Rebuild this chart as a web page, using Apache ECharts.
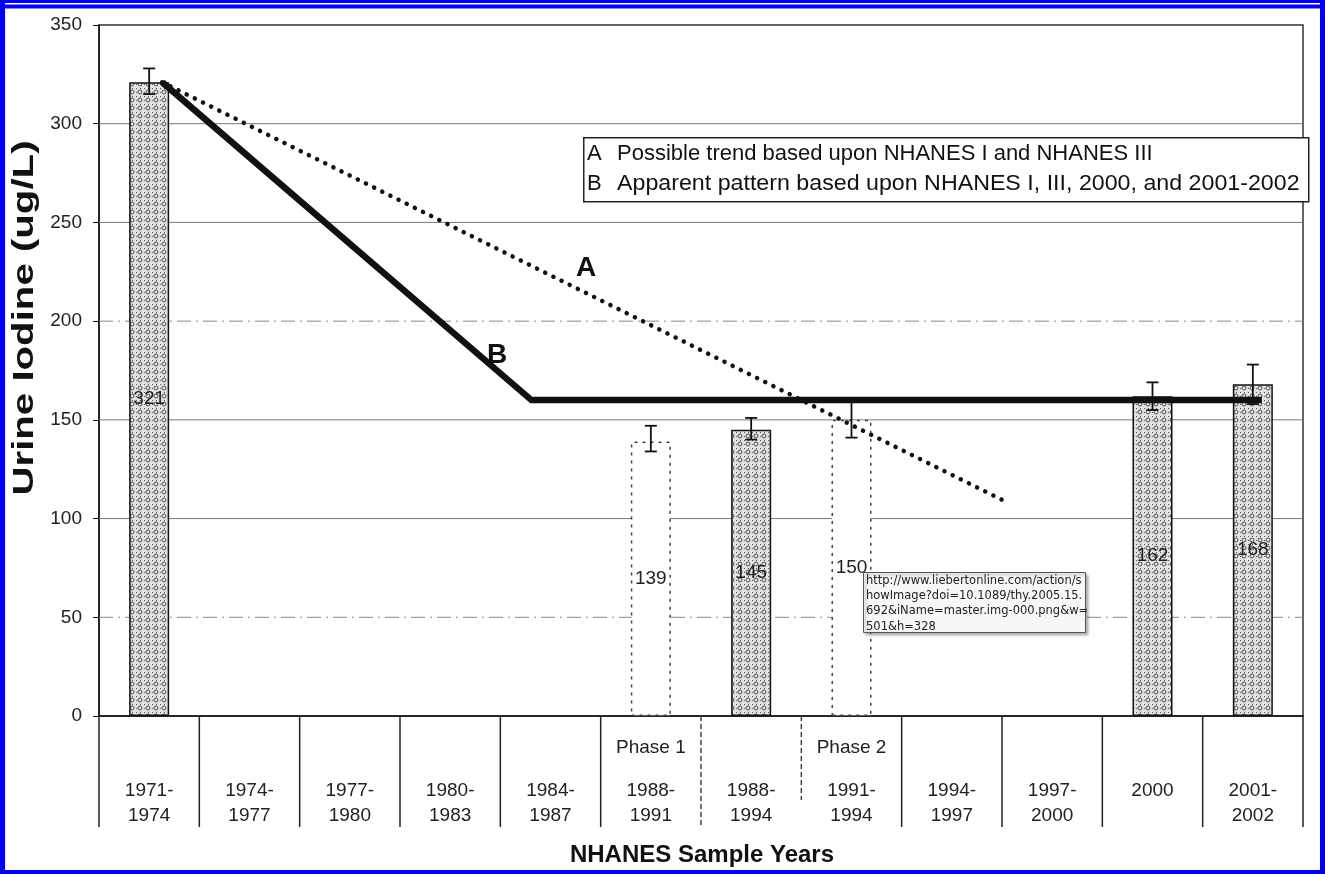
<!DOCTYPE html>
<html><head><meta charset="utf-8">
<script src="https://cdn.jsdelivr.net/npm/echarts@6/dist/echarts.min.js"></script>
<style>html,body{margin:0;padding:0;background:#fff}#c{width:1325px;height:874px}</style>
</head><body><div id="c"></div>
<script>
// ---- data ----
const categories = ['1971-\n1974','1974-\n1977','1977-\n1980','1980-\n1983','1984-\n1987','1988-\n1991','1988-\n1994','1991-\n1994','1994-\n1997','1997-\n2000','2000\n','2001-\n2002'];
const phaseLabels = ['','','','','','Phase 1','','Phase 2','','','',''];
const measuredValues = [321,null,null,null,null,null,145,null,null,null,162,168];
const phaseValues = [null,null,null,null,null,139,null,150,null,null,null,null];
const errCategory = [0,5,6,7,10,11];
const errLow  = [315,134,140,141,155,158];
const errHigh = [328,147,151,161,169,178];
const lineA_x = [0.63, 9.02];
const lineA_y = [321, 109];
const lineB_x = [0.63, 4.31, 11.59];
const lineB_y = [321, 160, 160];
const gridValues = [50,100,150,200,250,300];
const yMin = 0, yMax = 350, yStep = 50;

const FONT = '"Liberation Sans", Arial, sans-serif';

// stipple pattern for measured bars
const pc = document.createElement('canvas'); pc.width = 8; pc.height = 8;
const g = pc.getContext('2d');
g.fillStyle = '#e2e2e2'; g.fillRect(0,0,8,8);
g.strokeStyle = '#505050'; g.lineWidth = 1;
g.beginPath(); g.arc(4,4,2,0,Math.PI*2); g.stroke();
g.fillStyle = '#555'; g.fillRect(0,0,1,1); g.fillRect(0,4,1,1); g.fillRect(4,0,1,1);

const chart = echarts.init(document.getElementById('c'), null, {renderer:'canvas'});
const nCat = categories.length;
const boundaries = categories.map((_, i) => i).concat(nCat);

const option = {
  animation: false,
  backgroundColor: '#fff',
  grid: {left: 99, top: 25, right: 22, bottom: 158, show: true, borderColor: '#333', borderWidth: 1.5},
  xAxis: [{
    type: 'category', data: categories, boundaryGap: true,
    axisLine: {lineStyle: {color: '#111', width: 1.5}},
    axisTick: {show: false},
    axisLabel: {
      interval: 0, margin: 2, fontFamily: FONT, color: '#222',
      formatter: (v, i) => '{p|' + (phaseLabels[i] || ' ') + '}\n' + v.split('\n').map(s => '{y|' + (s || ' ') + '}').join('\n'),
      rich: {
        p: {fontSize: 19, lineHeight: 60, fontFamily: FONT, color: '#222'},
        y: {fontSize: 19, lineHeight: 25, fontFamily: FONT, color: '#222'}
      }
    },
    splitLine: {show: false}
  }, {
    type: 'value', min: 0, max: nCat, show: false
  }],
  yAxis: {
    type: 'value', min: yMin, max: yMax, interval: yStep,
    axisLine: {show: true, lineStyle: {color: '#111', width: 1.5}},
    axisTick: {show: true, length: 6, lineStyle: {color: '#111'}},
    axisLabel: {fontSize: 19, fontFamily: FONT, color: '#222', margin: 17},
    splitLine: {show: false}
  },
  series: [
    { // gridlines
      type: 'custom', xAxisIndex: 1, z: 1, silent: true,
      data: gridValues.map(v => [v]),
      encode: {y: 0},
      renderItem: (params, api) => {
        const v = api.value(0);
        const p1 = api.coord([0, v]), p2 = api.coord([nCat, v]);
        const broken = (v === 50 || v === 200);
        return {type: 'line', shape: {x1: p1[0], y1: p1[1], x2: p2[0], y2: p2[1]},
          style: {stroke: broken ? '#8a8a8a' : '#777', lineWidth: 1, lineDash: broken ? [14,5,2,5] : null}};
      }
    },
    {
      type: 'bar', name: 'measured', xAxisIndex: 0, z: 2, barWidth: 40, barGap: '-100%',
      data: measuredValues,
      itemStyle: {color: {image: pc, repeat: 'repeat'}, borderColor: '#111', borderWidth: 1.5},
      label: {show: true, position: 'inside', fontSize: 19, fontFamily: FONT, color: '#222'}
    },
    {
      type: 'bar', name: 'phase', xAxisIndex: 0, z: 2, barWidth: 40, barGap: '-100%',
      data: phaseValues,
      itemStyle: {color: '#fff', borderColor: '#444', borderWidth: 1.5, borderType: [3,5]},
      label: {show: true, position: 'inside', fontSize: 19, fontFamily: FONT, color: '#222'}
    },
    { // error bars
      type: 'custom', xAxisIndex: 0, z: 3, silent: true,
      data: errCategory.map((c, i) => [c, errLow[i], errHigh[i]]),
      encode: {x: 0, y: [1, 2]},
      renderItem: (params, api) => {
        const c = api.value(0);
        const lo = api.coord([c, api.value(1)]);
        const hi = api.coord([c, api.value(2)]);
        const w = 6, st = {stroke: '#111', lineWidth: 1.8};
        return {type: 'group', children: [
          {type: 'line', shape: {x1: lo[0], y1: lo[1], x2: hi[0], y2: hi[1]}, style: st},
          {type: 'line', shape: {x1: lo[0]-w, y1: lo[1], x2: lo[0]+w, y2: lo[1]}, style: st},
          {type: 'line', shape: {x1: hi[0]-w, y1: hi[1], x2: hi[0]+w, y2: hi[1]}, style: st}
        ]};
      }
    },
    {
      type: 'line', name: 'A', xAxisIndex: 1, z: 4, symbol: 'none',
      data: lineA_x.map((x, i) => [x, lineA_y[i]]),
      lineStyle: {color: '#111', width: 4.5, type: [0.1, 9], cap: 'round'}
    },
    {
      type: 'line', name: 'B', xAxisIndex: 1, z: 5, symbol: 'none',
      data: lineB_x.map((x, i) => [x, lineB_y[i]]),
      lineStyle: {color: '#111', width: 6.5, join: 'miter'}
    },
    { // table lines below the axis
      type: 'custom', xAxisIndex: 1, z: 3, silent: true, clip: false,
      data: boundaries.map(b => [b]),
      encode: {x: 0},
      renderItem: (params, api) => {
        const b = api.value(0);
        const p = api.coord([b, 0]);
        let len = 111, dash = null, color = '#222';
        if (b === 6) { dash = [5, 3]; color = '#444'; }
        if (b === 7) { dash = [5, 3]; color = '#444'; len = 84; }
        return {type: 'line', shape: {x1: p[0], y1: p[1], x2: p[0], y2: p[1] + len},
          style: {stroke: color, lineWidth: 1.5, lineDash: dash}};
      }
    }
  ],
  graphic: [
    // legend box
    {type: 'rect', left: 583, top: 137, z: 50, shape: {width: 725, height: 64},
      style: {fill: '#fff', stroke: '#222', lineWidth: 1.5}},
    {type: 'text', x: 587, y: 154, z: 51, style: {text: 'A', font: '22px ' + FONT, fill: '#111', textVerticalAlign: 'middle'}},
    {type: 'text', x: 617, y: 154, z: 51, style: {text: 'Possible trend based upon NHANES I and NHANES III', font: '22px ' + FONT, fill: '#111', textVerticalAlign: 'middle'}},
    {type: 'text', x: 587, y: 184, z: 51, style: {text: 'B', font: '22px ' + FONT, fill: '#111', textVerticalAlign: 'middle'}},
    {type: 'text', x: 617, y: 184, z: 51, scaleX: 1.055, style: {text: 'Apparent pattern based upon NHANES I, III, 2000, and 2001-2002', font: '22px ' + FONT, fill: '#111', textVerticalAlign: 'middle'}},
    // line labels
    {type: 'text', x: 586, y: 268, z: 51, style: {text: 'A', font: 'bold 28px ' + FONT, fill: '#111', textAlign: 'center', textVerticalAlign: 'middle'}},
    {type: 'text', x: 497, y: 355, z: 51, style: {text: 'B', font: 'bold 28px ' + FONT, fill: '#111', textAlign: 'center', textVerticalAlign: 'middle'}},
    // axis titles
    {type: 'text', x: 25, y: 318, rotation: Math.PI / 2, scaleX: 1.34, z: 51, style: {text: 'Urine Iodine (ug/L)', font: 'bold 30px ' + FONT, fill: '#111', textAlign: 'center', textVerticalAlign: 'middle'}},
    {type: 'text', x: 702, y: 855, z: 51, style: {text: 'NHANES Sample Years', font: 'bold 24px ' + FONT, fill: '#111', textAlign: 'center', textVerticalAlign: 'middle'}},
    // url tooltip box
    {type: 'rect', left: 863, top: 572, z: 60, shape: {width: 222, height: 60},
      style: {fill: '#f7f7f9', stroke: '#555', lineWidth: 1, shadowBlur: 3, shadowColor: 'rgba(0,0,0,0.35)', shadowOffsetX: 2, shadowOffsetY: 2}},
    {type: 'text', x: 866, y: 573, z: 61, style: {text: 'http://www.liebertonline.com/action/s\nhowImage?doi=10.1089/thy.2005.15.\n692&iName=master.img-000.png&w=\n501&h=328', font: '11.5px "DejaVu Sans", sans-serif', lineHeight: 15.3, fill: '#222'}},
    // blue frame
    {type: 'rect', left: 0, top: 0, z: 100, shape: {width: 1325, height: 3}, style: {fill: '#0000f5'}},
    {type: 'rect', left: 0, top: 4.5, z: 100, shape: {width: 1325, height: 4}, style: {fill: '#0000f5'}},
    {type: 'rect', left: 0, top: 0, z: 100, shape: {width: 5, height: 874}, style: {fill: '#0000f5'}},
    {type: 'rect', left: 1320, top: 0, z: 100, shape: {width: 5, height: 874}, style: {fill: '#0000f5'}},
    {type: 'rect', left: 0, top: 870, z: 100, shape: {width: 1325, height: 4}, style: {fill: '#0000f5'}}
  ]
};
chart.setOption(option);
</script></body></html>
